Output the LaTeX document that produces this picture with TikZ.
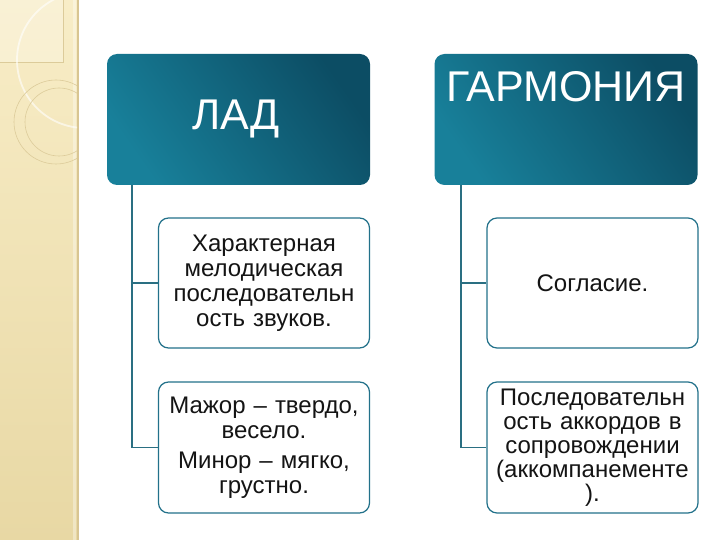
\documentclass[tikz,border=0pt]{standalone}
\usepackage{fontspec}
\setmainfont{Liberation Sans}
\definecolor{stripTop}{HTML}{F8EDC7}
\definecolor{stripBot}{HTML}{E8D8A4}
\definecolor{stripLine}{HTML}{D8C592}
\definecolor{decoLine}{HTML}{DCCB9A}
\definecolor{headDark}{HTML}{0C4D64}
\definecolor{headLight}{HTML}{18809A}
\definecolor{boxLine}{HTML}{22718A}
\definecolor{connLine}{HTML}{2A6F82}
\definecolor{txt}{HTML}{141414}
\tikzset{
  headbox/.style={draw=none, rounded corners=10pt, top color=headDark, bottom color=headLight, shading angle=-55, minimum width=263pt, minimum height=131pt, inner sep=0pt},
  headtext/.style={text=white, font=\fontsize{43}{46}\selectfont, inner sep=0pt},
  infobox/.style={draw=boxLine, line width=1.2pt, fill=white, rounded corners=10pt, minimum width=211pt, minimum height=130pt, text width=205pt, align=center, inner sep=0pt, text=txt, font=\fontsize{24}{25}\selectfont},
  conn/.style={draw=connLine, line width=1.8pt}
}
\begin{document}
\begin{tikzpicture}[x=1pt,y=-1pt]
\useasboundingbox (0,0) rectangle (720,540);
% decorative strip
\shade[top color=stripTop, bottom color=stripBot] (0,0) rectangle (78,540);
\fill[white, opacity=0.35] (73,0) rectangle (76,540);
\draw[stripLine, line width=1.2pt] (78,0) -- (78,540);
\begin{scope}
  \clip (0,0) rectangle (77,540);
  \fill[white, opacity=0.25] (0,0) rectangle (63,62);
  \draw[decoLine, line width=0.5pt] (0,62) -- (63,62) -- (63,0);
  \draw[white, opacity=0.6, line width=1.8pt] (85,60) circle[radius=68];
  \draw[decoLine, line width=0.6pt] (56,122) circle[radius=42];
  \draw[decoLine, line width=0.6pt] (59,122) circle[radius=34];
\end{scope}
% headers
\node[headbox] (lad) at (238.5,119.5) {};
\node[headtext] (ladt) at (236,119) {ЛАД};
\node[headbox] (harm) at (566,119.5) {};
\node[headtext] (harmt) at (566,87) {ГАРМОНИЯ};
% content boxes
\node[infobox] (l1) at (264,283) {Характерная\\мелодическая\\последовательн\\ость звуков.};
\node[infobox, minimum height=131pt] (l2) at (264,447.5) {Мажор – твердо,\\весело.\\[5pt]Минор – мягко,\\грустно.};
\node[infobox] (r1) at (592.5,283) {Согласие.};
\node[infobox, minimum height=131pt, font=\fontsize{24}{24}\selectfont] (r2) at (592.5,447.5) {Последовательн\\ость аккордов в\\сопровождении\\(аккомпанементе\\).};
% connectors
\draw[conn] ([xshift=25pt]lad.south west) |- (l1.west);
\draw[conn] ([xshift=25pt]lad.south west) |- (l2.west);
\draw[conn] ([xshift=27pt]harm.south west) |- (r1.west);
\draw[conn] ([xshift=27pt]harm.south west) |- (r2.west);
\end{tikzpicture}
\end{document}
